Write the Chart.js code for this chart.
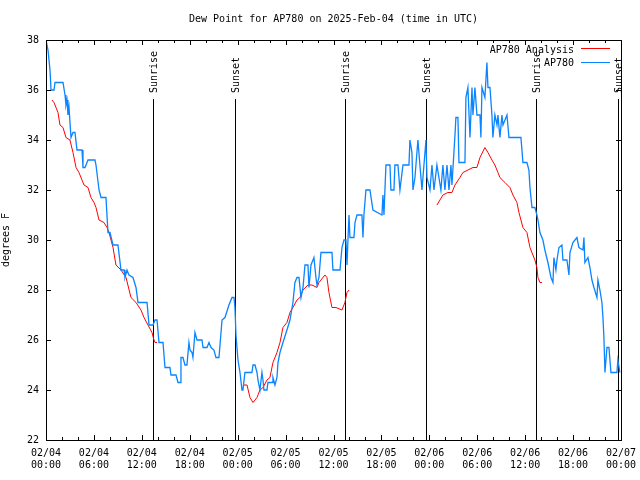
<!DOCTYPE html>
<html>
<head>
<meta charset="utf-8">
<script src="https://cdn.jsdelivr.net/npm/chart.js@4.4.0/dist/chart.umd.min.js"></script>
<style>
  html, body { margin: 0; padding: 0; background: #fff; }
  #dewChart { display: block; }
</style>
</head>
<body>
<canvas id="dewChart" width="640" height="480"></canvas>
<script>
// hours since 02/04 00:00 UTC
const blueHours = [0, 0.25, 0.5, 0.63, 1.0, 1.13, 2.13, 2.38, 2.5, 2.63, 2.75, 2.88, 3.13, 3.38, 3.63, 3.88, 4.51, 4.63, 4.88, 5.26,
  6.13, 6.26, 6.64, 6.89, 7.51, 7.76, 8.01, 8.39, 9.01, 9.39, 9.77, 9.89, 10.14, 10.39, 10.89, 11.27, 11.52, 12.65, 12.9, 13.4,
  13.65, 13.9, 14.15, 14.65, 14.9, 15.52, 15.65, 16.28, 16.53, 16.78, 16.9, 17.15, 17.4, 17.65, 17.9, 18.03, 18.28, 18.4, 18.65, 18.91,
  19.53, 19.66, 20.16, 20.41, 20.66, 21.03, 21.28, 21.66, 22.04, 22.41, 22.91, 23.29, 23.54, 23.66, 23.79, 23.91, 24.04, 24.29, 24.54, 24.66,
  24.91, 25.79, 25.92, 26.17, 26.42, 26.54, 26.79, 27.04, 27.17, 27.29, 27.67, 27.79, 28.3, 28.42, 28.67, 28.92, 29.05, 29.3, 29.67, 30.17,
  30.55, 30.92, 31.17, 31.43, 31.68, 31.93, 32.18, 32.43, 32.8, 32.93, 33.18, 33.43, 33.55, 33.8, 33.93, 34.18, 34.43, 35.81, 35.93, 36.81,
  37.06, 37.31, 37.56, 37.69, 37.81, 37.94, 38.06, 38.56, 38.69, 38.94, 39.56, 39.69, 39.81, 40.06, 40.56, 40.94, 42.07, 42.19, 42.32, 42.44,
  42.57, 43.07, 43.19, 43.57, 43.69, 44.07, 44.32, 44.7, 45.45, 45.57, 45.82, 45.95, 46.2, 46.57, 46.82, 47.08, 47.2, 47.58, 47.7, 48.08,
  48.33, 48.58, 48.95, 49.2, 49.45, 49.7, 49.95, 50.21, 50.46, 50.71, 50.83, 51.08, 51.21, 51.33, 51.58, 51.71, 52.46, 52.58, 52.83, 53.09,
  53.34, 53.46, 53.71, 53.96, 54.34, 54.46, 54.59, 54.96, 55.21, 55.34, 55.59, 55.84, 55.96, 56.21, 56.47, 56.59, 56.84, 57.09, 57.22, 57.72,
  57.97, 59.47, 59.72, 60.22, 60.47, 60.6, 60.85, 61.22, 61.47, 61.6, 61.85, 62.22, 62.47, 62.85, 63.23, 63.48, 63.6, 63.85, 63.98, 64.23,
  64.6, 64.73, 65.23, 65.48, 65.61, 65.98, 66.48, 66.73, 67.23, 67.36, 67.48, 67.86, 68.11, 68.36, 68.61, 68.99, 69.11, 69.36, 69.61, 69.74,
  69.86, 69.99, 70.24, 70.49, 70.74, 71.49, 71.61, 71.86];
const blueValues = [38.0, 37.6, 36.8, 36.0, 36.0, 36.3, 36.3, 35.8, 35.4, 35.6, 35.0, 35.3, 34.1, 34.3, 34.3, 33.6, 33.6, 32.9, 32.9, 33.2,
  33.2, 33.0, 32.0, 31.7, 31.7, 30.3, 30.3, 29.8, 29.8, 28.8, 28.8, 28.5, 28.8, 28.6, 28.5, 28.1, 27.5, 27.5, 26.6, 26.6,
  26.8, 26.8, 25.9, 25.9, 24.9, 24.9, 24.6, 24.6, 24.3, 24.3, 25.3, 25.3, 25.0, 25.0, 25.9, 25.6, 25.5, 25.3, 26.3, 26.0,
  26.0, 25.7, 25.7, 25.9, 25.7, 25.6, 25.3, 25.3, 26.8, 26.9, 27.4, 27.7, 27.7, 27.3, 26.2, 25.7, 25.2, 24.7, 24.0, 24.0,
  24.7, 24.7, 25.0, 25.0, 24.7, 24.4, 24.0, 24.7, 24.4, 24.0, 24.0, 24.3, 24.3, 24.5, 24.2, 24.5, 25.1, 25.5, 25.9, 26.4,
  26.8, 27.5, 28.3, 28.5, 28.5, 27.7, 28.1, 29.0, 29.0, 28.1, 29.0, 29.2, 29.3, 28.5, 28.2, 28.5, 29.5, 29.5, 28.8, 28.8,
  29.7, 30.0, 30.0, 29.0, 30.0, 31.0, 30.1, 30.1, 30.7, 31.0, 31.0, 30.1, 31.0, 32.0, 32.0, 31.2, 31.0, 31.8, 31.0, 32.0,
  33.0, 33.0, 32.0, 32.0, 33.0, 33.0, 32.0, 33.0, 33.0, 34.0, 33.5, 32.0, 32.5, 34.0, 33.0, 32.0, 32.5, 34.0, 32.5, 32.0,
  33.0, 32.0, 33.0, 32.5, 32.0, 33.0, 32.0, 33.0, 32.0, 33.0, 32.2, 33.5, 34.2, 34.9, 34.9, 33.1, 33.1, 35.7, 36.1, 34.1,
  36.1, 35.0, 36.1, 35.0, 35.0, 34.1, 36.1, 35.7, 37.1, 36.1, 36.1, 35.0, 34.1, 35.0, 34.6, 35.0, 34.1, 35.0, 34.6, 35.0,
  34.1, 34.1, 33.1, 33.1, 32.8, 32.1, 31.3, 31.3, 31.0, 30.8, 30.3, 30.0, 29.6, 29.1, 28.5, 28.3, 29.3, 28.8, 29.2, 29.7,
  29.8, 29.2, 29.2, 28.6, 29.5, 29.9, 30.1, 29.7, 29.6, 30.1, 29.1, 29.3, 28.9, 28.4, 28.1, 27.7, 28.4, 28.0, 27.5, 26.9,
  26.1, 24.7, 25.7, 25.7, 24.7, 24.7, 25.2, 24.7];

// analysis series, null marks a gap between runs
const redHours = [0.75, 1.0, 1.5, 1.75, 2.13, 2.5, 3.0, 3.38, 3.76, 4.13, 4.76, 5.26, 5.63, 6.01, 6.26, 6.64, 7.26, 7.64, 7.89, 8.39,
  8.76, 9.39, 10.02, 10.64, 11.27, 11.89, 12.27, 12.77, 13.27, 13.52, 13.65, 13.9, 19.0,
  24.66, 25.17, 25.54, 25.92, 26.42, 26.79, 27.17, 27.67, 28.04, 28.42, 28.92, 29.3, 29.67, 30.17, 30.55, 30.92, 31.43, 31.8, 32.18,
  32.8, 33.3, 33.93, 34.18, 34.93, 35.18, 35.43, 35.81, 36.31, 37.06, 37.43, 37.69, 37.94, 43.0,
  48.95, 49.33, 49.7, 50.33, 50.83, 51.21, 51.83, 52.21, 52.83, 53.46, 53.96, 54.34, 54.96, 55.34, 55.84, 56.21, 56.59, 56.84, 57.47,
  58.09, 58.47, 58.97, 59.22, 59.72, 60.22, 60.6, 60.97, 61.22, 61.47, 61.6, 61.85, 62.1];
const redValues = [35.6, 35.5, 35.1, 34.6, 34.5, 34.1, 34.0, 33.5, 32.9, 32.7, 32.2, 32.1, 31.7, 31.5, 31.3, 30.8, 30.7, 30.5, 30.3, 29.7,
  29.0, 28.8, 28.5, 27.7, 27.5, 27.2, 26.9, 26.6, 26.3, 26.0, 25.9, 25.9, null,
  24.2, 24.2, 23.7, 23.5, 23.7, 24.0, 24.1, 24.4, 24.5, 25.1, 25.5, 25.9, 26.5, 26.7, 27.1, 27.3, 27.6, 27.7, 28.0,
  28.2, 28.2, 28.1, 28.3, 28.6, 28.5, 27.9, 27.3, 27.3, 27.2, 27.5, 27.9, 28.0, null,
  31.4, 31.6, 31.8, 31.9, 31.9, 32.2, 32.5, 32.7, 32.8, 32.9, 32.9, 33.3, 33.7, 33.5, 33.2, 33.0, 32.7, 32.5, 32.3,
  32.1, 31.8, 31.5, 31.1, 30.5, 30.3, 29.7, 29.4, 29.2, 28.9, 28.5, 28.3, 28.3];

const sunHours = [13.4, 23.66, 37.43, 47.58, 61.35, 71.61];
const sunLabels = ['Sunrise', 'Sunset', 'Sunrise', 'Sunset', 'Sunrise', 'Sunset'];

const tickDays = ['02/04', '02/04', '02/04', '02/04', '02/05', '02/05', '02/05', '02/05', '02/06', '02/06', '02/06', '02/06', '02/07'];
const tickTimes = ['00:00', '06:00', '12:00', '18:00', '00:00', '06:00', '12:00', '18:00', '00:00', '06:00', '12:00', '18:00', '00:00'];

const FONT = '10px "DejaVu Sans Mono"';

const toPoints = (xs, ys) => xs.map((x, i) => ({ x: x, y: ys[i] }));

const decorPlugin = {
    id: 'decor',
    beforeDatasetsDraw(chart) {
        const c = chart.ctx;
        const xs = chart.scales.x;
        const area = chart.chartArea;
        c.save();
        c.strokeStyle = '#000';
        c.fillStyle = '#000';
        c.lineWidth = 1;
        c.font = FONT;
        sunHours.forEach((h, i) => {
            const px = Math.round(xs.getPixelForValue(h)) + 0.5;
            c.beginPath();
            c.moveTo(px, 99);
            c.lineTo(px, area.bottom);
            c.stroke();
            c.save();
            c.translate(px + 1, 93);
            c.rotate(-Math.PI / 2);
            c.textAlign = 'left';
            c.textBaseline = 'middle';
            c.fillText(sunLabels[i], 0, 0);
            c.restore();
        });
        c.restore();
    },
    afterDraw(chart) {
        const c = chart.ctx;
        const xs = chart.scales.x;
        const ys = chart.scales.y;
        const a = chart.chartArea;
        c.save();
        c.strokeStyle = '#000';
        c.lineWidth = 1;
        c.strokeRect(Math.round(a.left) + 0.5, Math.round(a.top) + 0.5,
            Math.round(a.right - a.left), Math.round(a.bottom - a.top));
        c.beginPath();
        for (let h = 0; h <= 72; h += 2) {
            const px = Math.round(xs.getPixelForValue(h)) + 0.5;
            const len = h % 6 === 0 ? 5 : 3;
            c.moveTo(px, a.bottom); c.lineTo(px, a.bottom - len);
            c.moveTo(px, a.top); c.lineTo(px, a.top + len);
        }
        for (let v = 22; v <= 38; v += 2) {
            const py = Math.round(ys.getPixelForValue(v)) + 0.5;
            c.moveTo(a.left, py); c.lineTo(a.left + 5, py);
            c.moveTo(a.right, py); c.lineTo(a.right - 5, py);
        }
        c.stroke();

        c.fillStyle = '#000';
        c.font = FONT;
        c.textAlign = 'center';
        c.textBaseline = 'middle';
        c.fillText('Dew Point for AP780 on 2025-Feb-04 (time in UTC)', (a.left + a.right) / 2, 19);

        // legend
        c.textAlign = 'right';
        c.fillText('AP780 Analysis', 574, 50);
        c.fillText('AP780', 574, 63);
        c.strokeStyle = '#ff0000';
        c.beginPath(); c.moveTo(581, 48.5); c.lineTo(610, 48.5); c.stroke();
        c.strokeStyle = '#0a84ff';
        c.beginPath(); c.moveTo(581, 62.5); c.lineTo(610, 62.5); c.stroke();
        c.restore();
    }
};

new Chart(document.getElementById('dewChart').getContext('2d'), {
    type: 'line',
    data: {
        datasets: [
            {
                label: 'AP780 Analysis',
                data: toPoints(redHours, redValues),
                borderColor: '#ff0000',
                borderWidth: 1,
                pointRadius: 0,
                fill: false,
                spanGaps: false,
                order: 1
            },
            {
                label: 'AP780',
                data: toPoints(blueHours, blueValues),
                borderColor: '#0a84ff',
                borderWidth: 1.3,
                pointRadius: 0,
                fill: false,
                order: 0
            }
        ]
    },
    options: {
        responsive: false,
        animation: false,
        devicePixelRatio: 1,
        layout: { padding: { top: 40, right: 19, left: 0, bottom: 0 } },
        plugins: {
            legend: { display: false },
            title: { display: false },
            tooltip: { enabled: false }
        },
        scales: {
            x: {
                type: 'linear',
                min: 0,
                max: 72,
                afterFit: (s) => { s.height = 40; s.paddingLeft = 0; s.paddingRight = 0; },
                grid: { display: false, drawTicks: false },
                border: { display: false },
                ticks: {
                    stepSize: 6,
                    autoSkip: false,
                    maxRotation: 0,
                    padding: 7,
                    color: '#000',
                    font: { family: 'DejaVu Sans Mono', size: 10 },
                    callback: (v) => [tickDays[v / 6], tickTimes[v / 6]]
                }
            },
            y: {
                min: 22,
                max: 38,
                afterFit: (s) => { s.width = 46; },
                grid: { display: false, drawTicks: false },
                border: { display: false },
                title: {
                    display: true,
                    text: 'degrees F',
                    color: '#000',
                    font: { family: 'DejaVu Sans Mono', size: 10 },
                    padding: { top: 0, bottom: 0 }
                },
                ticks: {
                    stepSize: 2,
                    padding: 7,
                    color: '#000',
                    font: { family: 'DejaVu Sans Mono', size: 10 }
                }
            }
        }
    },
    plugins: [decorPlugin]
});
</script>
</body>
</html>
